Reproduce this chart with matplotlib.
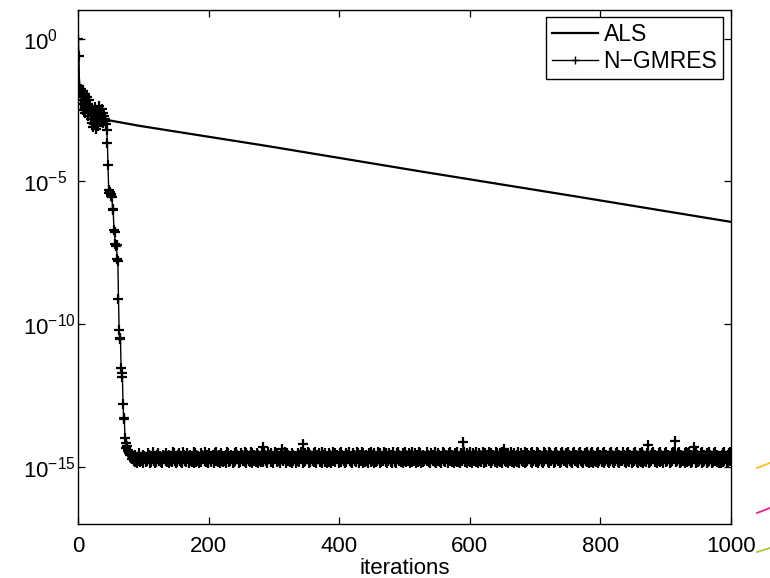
import numpy as np
import matplotlib
matplotlib.use("Agg")
import matplotlib.pyplot as plt
from matplotlib.lines import Line2D
from matplotlib.ticker import NullLocator, LogFormatterMathtext

plt.rcParams['font.family'] = ['Liberation Sans', 'DejaVu Sans']
plt.rcParams['mathtext.fontset'] = 'custom'
plt.rcParams['mathtext.rm'] = 'Liberation Sans'

# ---------------- data ----------------
# ALS residual (log10) at selected iterations
als_iters = [0, 1, 2, 4, 8, 15, 25, 38, 49, 95, 289, 524, 760, 1000]
als_log10 = [0.0, -1.2, -1.6, -1.9, -2.15, -2.35, -2.55, -2.75, -2.87,
             -3.06, -3.76, -4.65, -5.52, -6.42]

# N-GMRES residual (log10), iterations 0..82: start-up phase and steep drop
ngmres_head_log10 = [
    0.0, -0.6, -1.65, -1.9, -1.75, -2.3, -2.05, -1.85, -2.5, -2.15,
    -1.95, -2.6, -2.2, -2.4, -2.05, -2.7, -2.3, -2.15, -2.55, -2.35,
    -2.8, -2.95, -2.45, -3.1, -2.6, -3.0, -2.4, -3.15, -2.75, -2.5,
    -3.05, -2.7, -2.35, -2.9, -2.55, -2.75, -2.45, -2.85, -2.6, -2.95,
    -2.7, -2.8, -2.9, -3.0,
    -3.19, -3.66, -4.44, -5.30, -5.42, -5.36, -5.50, -5.45, -5.56, -5.97,
    -6.02, -6.70, -6.76, -7.20, -7.28, -7.24, -7.73, -7.78, -9.13, -10.20,
    -10.52, -10.48, -11.55, -11.70, -11.84, -12.80, -13.30, -13.34, -14.00,
    -14.15, -14.35, -14.28, -14.45, -14.40, -14.52, -14.48, -14.60, -14.55,
    -14.62,
]

# N-GMRES stagnation level from iteration 83 on: one digit per iteration,
# log10 value = PLATEAU_BASE + PLATEAU_STEP * digit
PLATEAU_BASE = -14.93
PLATEAU_STEP = 0.05
plateau_digits = (
    "46352745136825437164525384716254936142758364251746"
    "53826417356294835162748352619473528461735264918273"
    "64153827465392741856324751683942576183425637194852"
    "37461528394756128473659281746352918473562817463529"
    "52847361954728361495827364158273649158374625183746"
    "41638275946152837469182754638291574682359174628351"
    "68274153962847561382947563128475936241857362948157"
    "35918462735184629375816243957182463597281346852719"
    "74261859374625183947256381749265381472593861427356"
    "49372615847352916483725164938257461839527461385294"
    "26185374926481537294618375294618372549163827459361"
    "83746529184637251948637251846392751846372915486372"
    "51928374652819374652918374625193847562918374651829"
    "47365182947365281947362518493762518493726154839271"
    "64829173546281937465281937462518394726153849271653"
    "39472615839274615283947261538294716352849162738495"
    "72615384927361548293746152839471625384917263548192"
    "58394716253849172635481927364518293746152839472615"
    "46172839465172839461528374916253847192635481729364"
    "93847261538492716354829173645281937465281937462518"
)

# isolated upward outliers on the stagnation level
spike_iters = [283, 312, 345, 590, 652, 873, 914, 943]
spike_log10 = [-14.30, -14.36, -14.19, -14.13, -14.36, -14.24, -14.10, -14.30]

last_iter = 1000
x_ticks = [0, 200, 400, 600, 800, 1000]
y_ticks = [1e0, 1e-5, 1e-10, 1e-15]

# ---------------- assemble series ----------------
n_tail = last_iter + 1 - len(ngmres_head_log10)
tail = [PLATEAU_BASE + PLATEAU_STEP * int(c) for c in plateau_digits[:n_tail]]
ngmres_log10 = np.array(ngmres_head_log10 + tail)
for it, v in zip(spike_iters, spike_log10):
    ngmres_log10[it] = v
ngmres_iters = np.arange(len(ngmres_log10))

# ---------------- figure ----------------
W, H = 770, 578
fig = plt.figure(figsize=(W / 100, H / 100), dpi=100)
ax = fig.add_axes([78 / W, 1 - 524 / H, (731 - 78) / W, (524 - 10) / H])

ax.plot(als_iters, 10.0 ** np.array(als_log10), color='black', lw=1.6,
        label='ALS', zorder=3)
ax.plot(ngmres_iters, 10.0 ** ngmres_log10, color='black', lw=1.0,
        marker='+', markersize=7, markeredgewidth=1.6,
        label='N\u2212GMRES', zorder=2)

ax.set_yscale('log')
ax.set_xlim(0, 1000)
ax.set_ylim(1e-17, 1e1)
ax.set_xticks(x_ticks)
ax.set_yticks(y_ticks)
ax.yaxis.set_minor_locator(NullLocator())
ax.yaxis.set_major_formatter(LogFormatterMathtext())

for s in ax.spines.values():
    s.set_linewidth(1.0)
    s.set_color('black')

ax.tick_params(axis='both', which='major', direction='in', length=5,
               width=0.9, labelsize=16, top=True, right=True,
               colors='black')
ax.tick_params(axis='x', pad=8.5)
ax.tick_params(axis='y', pad=39.6)
for lab in ax.get_yticklabels():
    lab.set_horizontalalignment('left')

ax.set_xlabel('iterations', fontsize=16, labelpad=1)

leg = ax.legend(loc='upper right', bbox_to_anchor=(1 - 8 / 653, 1 - 7 / 514),
                borderaxespad=0, fontsize=16.5, fancybox=False, framealpha=1,
                edgecolor='black', handlelength=2.0, handletextpad=0.25,
                borderpad=0.25, labelspacing=0.2, numpoints=1)
leg.get_frame().set_linewidth(1.0)
for h in leg.legend_handles:
    h.set_markersize(6)
    h.set_markeredgewidth(1.0)

# small coloured strokes at the right margin
for (x0, y0, x1, y1, c) in [(757, 468, 770, 463, '#f2c21b'),
                            (757, 513, 770, 508, '#e6218f'),
                            (757, 552, 770, 548, '#a3c940')]:
    fig.add_artist(Line2D([x0 / W, x1 / W], [1 - y0 / H, 1 - y1 / H],
                          transform=fig.transFigure, color=c, lw=1.3))

fig.savefig('out.png', dpi=100)
